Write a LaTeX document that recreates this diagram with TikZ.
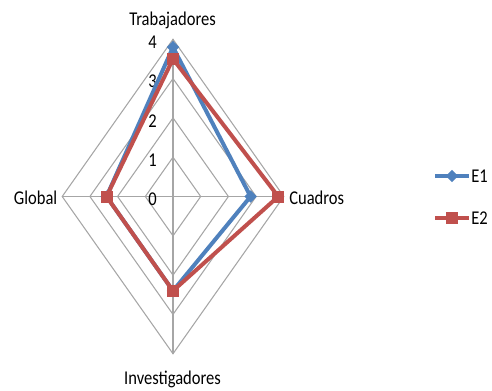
\documentclass[tikz,border=0pt]{standalone}
\usepackage{fontspec}
\setmainfont{Carlito}
\usetikzlibrary{shapes.geometric}
\definecolor{sblue}{HTML}{4F81BD}
\definecolor{sred}{HTML}{C0504D}
\definecolor{gridc}{HTML}{A6A6A6}
\newcommand{\tallt}[1]{\scalebox{1}[1.18]{#1}}
\tikzset{
  gridline/.style={draw=gridc, line width=0.8pt},
  lbl/.style={font=\fontsize{12.4}{14}\selectfont, inner sep=0pt},
  tick/.style={font=\fontsize{12.4}{14}\selectfont, inner sep=0pt, anchor=east},
  s1line/.style={draw=sblue, line width=3pt, line join=round},
  s2line/.style={draw=sred, line width=3pt, line join=miter},
  s1mark/.style={diamond, fill=sblue, inner sep=0pt, minimum width=9.5pt, minimum height=9.5pt},
  s2mark/.style={rectangle, fill=sred, inner sep=0pt, minimum size=9pt},
}
\begin{document}
\begin{tikzpicture}[x=0.75pt,y=-0.75pt]
\useasboundingbox (0,0) rectangle (492,390);
\def\cx{173}
\def\cy{196.5}
\def\ux{27.7}
\def\uy{39.3}
\coordinate (C) at (\cx,\cy);
% grid rings
\foreach \r in {1,2,3,4}{
  \draw[gridline] (\cx,{\cy-\r*\uy}) -- ({\cx+\r*\ux},\cy) -- (\cx,{\cy+\r*\uy}) -- ({\cx-\r*\ux},\cy) -- cycle;
}
\coordinate (T) at (\cx,{\cy-4*\uy});
\coordinate (R) at ({\cx+4*\ux},\cy);
\coordinate (B) at (\cx,{\cy+4*\uy});
\coordinate (L) at ({\cx-4*\ux},\cy);
\draw[gridline] (C) -- (T);
\draw[gridline] (C) -- (R);
\draw[gridline] (C) -- (B);
\draw[gridline] (C) -- (L);
% tick labels
\foreach \r in {0,1,2,3,4}{
  \node[tick] (t\r) at (157,{\cy-\r*\uy+3}) {\tallt{\r}};
}
% axis labels
\node[lbl, anchor=base] (lT) at (172.5,25) {\tallt{Trabajadores}};
\node[lbl, anchor=base east] (lG) at (57.5,204) {\tallt{Global}};
\node[lbl, anchor=base west] (lC) at (289,204) {\tallt{Cuadros}};
\node[lbl, anchor=base] (lI) at (172.5,384) {\tallt{Investigadores}};
% series E1
\coordinate (a1) at (\cx,{\cy-3.8*\uy});
\coordinate (a2) at ({\cx+2.8*\ux},\cy);
\coordinate (a3) at (\cx,{\cy+2.4*\uy});
\coordinate (a4) at ({\cx-2.4*\ux},\cy);
\draw[s1line] (a1) -- (a2) -- (a3) -- (a4) -- cycle;
\foreach \p in {a1,a2,a3,a4}{ \node[s1mark] (m\p) at (\p) {}; }
% series E2
\coordinate (b1) at (\cx,{\cy-3.5*\uy});
\coordinate (b2) at ({\cx+3.8*\ux},\cy);
\coordinate (b3) at (\cx,{\cy+2.4*\uy});
\coordinate (b4) at ({\cx-2.4*\ux},\cy);
\draw[s2line] (b1) -- (b2) -- (b3) -- (b4) -- cycle;
\foreach \p in {b1,b2,b3,b4}{ \node[s2mark] (m\p) at (\p) {}; }
% legend
\coordinate (l1a) at (435,176);
\coordinate (l1b) at (469,176);
\draw[s1line] (l1a) -- (l1b);
\node[s1mark] (lm1) at (452,176) {};
\node[lbl, anchor=base west] (le1) at (471,182) {\tallt{E1}};
\coordinate (l2a) at (435,218);
\coordinate (l2b) at (469,218);
\draw[s2line] (l2a) -- (l2b);
\node[s2mark] (lm2) at (452,218) {};
\node[lbl, anchor=base west] (le2) at (471,224) {\tallt{E2}};
\end{tikzpicture}
\end{document}
